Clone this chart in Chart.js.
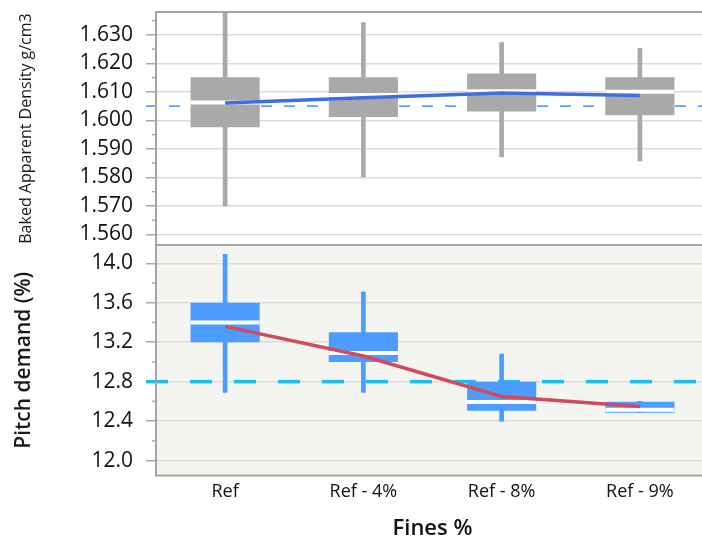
<!DOCTYPE html>
<html>
<head>
<meta charset="utf-8">
<script src="https://cdn.jsdelivr.net/npm/chart.js@4.4.0/dist/chart.umd.min.js"></script>
<style>
  html, body { margin: 0; padding: 0; background: #fff; overflow: hidden; }
  #wrap { position: relative; width: 702px; height: 543px; overflow: hidden; }
  .panel { position: absolute; left: 0; top: 0; width: 709px; height: 543px; }
</style>
</head>
<body>
<div id="wrap">
  <div class="panel"><canvas id="densityChart"></canvas></div>
  <div class="panel"><canvas id="pitchChart"></canvas></div>
</div>
<script>
const categories = ["Ref", "Ref - 4%", "Ref - 8%", "Ref - 9%"];

// Baked apparent density, g/cm3
const densityMin = [1.5700, 1.5802, 1.5872, 1.5858];
const densityQ1 = [1.5976, 1.6012, 1.6031, 1.6018];
const densityMedian = [1.6063, 1.6089, 1.6102, 1.6100];
const densityQ3 = [1.6151, 1.6151, 1.6164, 1.6151];
const densityMax = [1.6400, 1.6343, 1.6273, 1.6253];
const densityMean = [1.6061, 1.6079, 1.6096, 1.6087];
const densityTarget = 1.605;
const densityAxis = [1.5563, 1.638, 0.01];

// Pitch demand, %
const pitchMin = [12.69, 12.69, 12.40, 12.485];
const pitchQ1 = [13.20, 13.00, 12.505, 12.485];
const pitchMedian = [13.40, 13.09, 12.595, 12.515];
const pitchQ3 = [13.60, 13.30, 12.80, 12.597];
const pitchMax = [14.09, 13.71, 13.08, 12.60];
const pitchMean = [13.36, 13.06, 12.65, 12.548];
const pitchTarget = 12.8;
const pitchAxis = [11.849, 14.185, 0.4];

const FONT = "'Open Sans', sans-serif";

function pairs(a, b) {
    return a.map((v, i) => [v, b[i]]);
}

// background, target line, frame and minor ticks
const panelPlugin = {
    id: "panel",
    beforeDraw(chart, args, opts) {
        if (!opts.background) return;
        let a = chart.chartArea, ctx = chart.ctx;
        ctx.save();
        ctx.fillStyle = opts.background;
        ctx.fillRect(a.left, a.top, a.right - a.left, a.bottom - a.top);
        ctx.restore();
    },
    beforeDatasetsDraw(chart, args, opts) {
        let a = chart.chartArea, ctx = chart.ctx;
        let y = chart.scales.y.getPixelForValue(opts.target);
        ctx.save();
        ctx.beginPath();
        ctx.setLineDash(opts.dash);
        ctx.lineWidth = opts.targetWidth;
        ctx.strokeStyle = opts.targetColor;
        ctx.moveTo(a.left - 10, y);
        ctx.lineTo(a.right, y);
        ctx.stroke();
        ctx.restore();
    },
    afterDraw(chart, args, opts) {
        let a = chart.chartArea, ctx = chart.ctx;
        let ys = chart.scales.y;
        let ticks = ys.ticks.map(t => t.value);
        let step = ticks[1] - ticks[0];
        let minors = [];
        for (let i = 0; i < ticks.length - 1; i++) minors.push((ticks[i] + ticks[i + 1]) / 2);
        if (ticks[0] - step / 2 >= ys.min) minors.push(ticks[0] - step / 2);
        if (ticks[ticks.length - 1] + step / 2 <= ys.max) minors.push(ticks[ticks.length - 1] + step / 2);
        ctx.save();
        ctx.strokeStyle = "#a8a8a8";
        ctx.lineWidth = 1.5;
        minors.forEach(v => {
            let y = ys.getPixelForValue(v);
            ctx.beginPath();
            ctx.moveTo(a.left - 4, y);
            ctx.lineTo(a.left, y);
            ctx.stroke();
        });
        ctx.strokeStyle = "#a4a4a4";
        ctx.lineWidth = 2;
        ctx.strokeRect(a.left, a.top, a.right - a.left, a.bottom - a.top);
        ctx.restore();
    }
};

function boxPanel(id, o) {
    return new Chart(document.getElementById(id), {
        type: "bar",
        data: {
            labels: categories,
            datasets: [
                { label: "range", data: pairs(o.min, o.max), backgroundColor: o.boxColor,
                  barThickness: 4, grouped: false, order: 4 },
                { label: "box", data: pairs(o.q1, o.q3), backgroundColor: o.boxColor,
                  barPercentage: 0.5, categoryPercentage: 1, grouped: false, order: 3 },
                { type: "line", label: "median", data: o.median, showLine: false,
                  pointStyle: "line", pointRadius: 34.5, pointBorderWidth: 4,
                  pointBorderColor: "#ffffff", order: 2 },
                { type: "line", label: "mean", data: o.mean, borderColor: o.meanColor,
                  borderWidth: 3.5, pointRadius: 0, fill: false, order: 1 }
            ]
        },
        options: {
            responsive: true,
            maintainAspectRatio: false,
            devicePixelRatio: 1,
            animation: false,
            events: [],
            layout: { padding: o.padding, autoPadding: false },
            plugins: {
                legend: { display: false },
                title: { display: false },
                tooltip: { enabled: false },
                panel: {
                    background: o.background,
                    target: o.target,
                    targetColor: o.targetColor,
                    targetWidth: o.targetWidth,
                    dash: o.dash
                }
            },
            scales: {
                x: {
                    display: o.showX,
                    offset: true,
                    grid: { display: false, drawTicks: false },
                    border: { display: false },
                    ticks: { color: "#111", font: { family: FONT, size: 18 }, padding: 6 },
                    title: {
                        display: true, text: "Fines %", color: "#111",
                        font: { family: FONT, size: 22, weight: 600 },
                        padding: { top: 6, bottom: 0 }
                    }
                },
                y: {
                    min: o.axis[0],
                    max: o.axis[1],
                    ticks: {
                        stepSize: o.axis[2],
                        includeBounds: false,
                        color: "#111",
                        font: { family: FONT, size: 21 },
                        padding: 13,
                        callback: v => v.toFixed(o.decimals)
                    },
                    grid: { color: "#dcdcdc", lineWidth: 1.5, tickLength: 10, tickColor: "#a8a8a8", tickWidth: 1.5 },
                    border: { display: false },
                    title: {
                        display: true, text: o.title, color: "#1a1a1a",
                        font: o.titleFont,
                        padding: { top: o.titlePad, bottom: 0 }
                    },
                    afterFit(scale) {
                        scale.width = 156;
                        // plot area edges come from layout.padding only
                        scale.paddingTop = 0;
                        scale.paddingBottom = 0;
                    }
                }
            }
        },
        plugins: [panelPlugin]
    });
}

boxPanel("densityChart", {
    min: densityMin, q1: densityQ1, median: densityMedian, q3: densityQ3, max: densityMax,
    mean: densityMean, target: densityTarget, axis: densityAxis, decimals: 3,
    boxColor: "#a9a9a9", meanColor: "#3f6fdc",
    targetColor: "#5aa2ff", targetWidth: 1.8, dash: [11, 12],
    background: null, showX: false,
    padding: { top: 12, bottom: 298, left: 0, right: 0 },
    title: "Baked Apparent Density g/cm3",
    titleFont: { family: FONT, size: 16 }, titlePad: 17
});

boxPanel("pitchChart", {
    min: pitchMin, q1: pitchQ1, median: pitchMedian, q3: pitchQ3, max: pitchMax,
    mean: pitchMean, target: pitchTarget, axis: pitchAxis, decimals: 1,
    boxColor: "#4d9cff", meanColor: "#d14b5a",
    targetColor: "#19bff0", targetWidth: 3.5, dash: [22, 22],
    background: "#f4f5f1", showX: true,
    padding: { top: 245, bottom: 1.5, left: 0, right: 0 },
    title: "Pitch demand (%)",
    titleFont: { family: FONT, size: 21, weight: 600 }, titlePad: 11
});
</script>
</body>
</html>
